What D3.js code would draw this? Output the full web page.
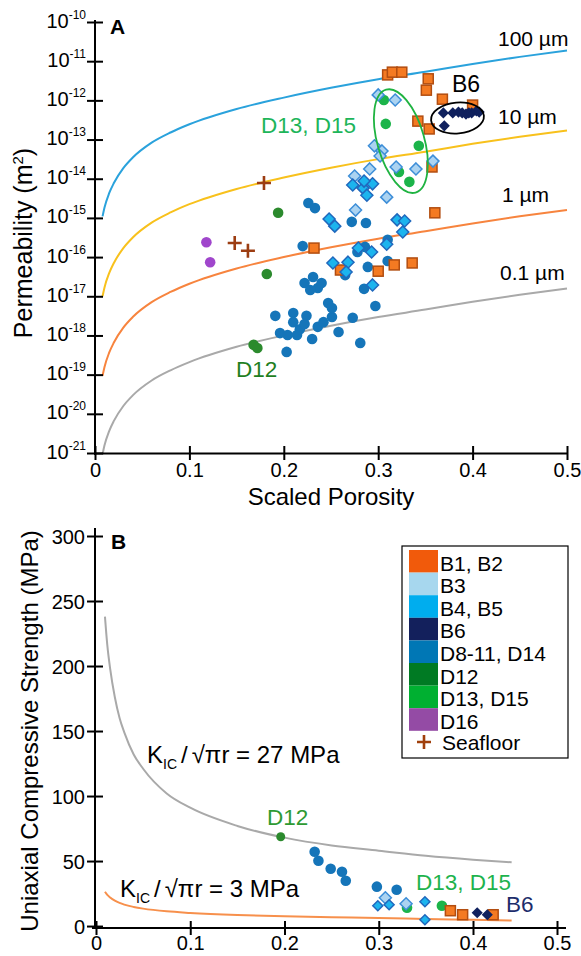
<!DOCTYPE html>
<html>
<head>
<meta charset="utf-8">
<script src="https://cdn.jsdelivr.net/npm/d3@7"></script>
<style>
  body { margin: 0; background: #fff; }
  svg text { font-family: 'Liberation Sans', Arial, sans-serif; }
</style>
</head>
<body>
<svg width="581" height="956"></svg>
<script>
// ---- panel A data : porosity vs log10 permeability (m2) ----
const permTicks = [-21, -20, -19, -18, -17, -16, -15, -14, -13, -12, -11, -10]
const porosityTicks = [0, 0.1, 0.2, 0.3, 0.4, 0.5]

const curvePorosity = [0.008, 0.01, 0.015, 0.02, 0.03, 0.04, 0.06, 0.08, 0.1, 0.15, 0.2, 0.25, 0.3, 0.35, 0.4, 0.45, 0.5]
const perm100um = [-14.96, -14.74, -14.37, -14.11, -13.73, -13.46, -13.08, -12.82, -12.61, -12.22, -11.93, -11.68, -11.46, -11.27, -11.07, -10.89, -10.73]
const perm10um = [-17.0, -16.78, -16.41, -16.15, -15.77, -15.5, -15.12, -14.86, -14.65, -14.26, -13.97, -13.72, -13.5, -13.31, -13.11, -12.93, -12.77]
const perm1um = [-19.03, -18.81, -18.44, -18.18, -17.8, -17.53, -17.15, -16.89, -16.68, -16.29, -16.0, -15.75, -15.53, -15.34, -15.14, -14.96, -14.8]
const perm01um = [-21.03, -20.81, -20.44, -20.18, -19.8, -19.53, -19.15, -18.89, -18.68, -18.29, -18.0, -17.75, -17.53, -17.34, -17.14, -16.96, -16.8]

const permB1B2 = [[0.310, -11.35], [0.315, -11.28], [0.325, -11.28], [0.353, -11.45], [0.351, -11.74],
  [0.368, -11.97], [0.400, -12.12], [0.342, -12.53], [0.354, -12.73], [0.357, -13.70], [0.360, -14.87],
  [0.232, -15.77], [0.260, -16.33], [0.300, -16.36], [0.317, -16.20], [0.336, -16.15]]
const permB3 = [[0.300, -11.86], [0.318, -11.99], [0.296, -13.16], [0.304, -13.29], [0.302, -13.42],
  [0.319, -13.70], [0.340, -13.75], [0.358, -13.55], [0.291, -13.75], [0.309, -14.47], [0.276, -14.80],
  [0.275, -13.93]]
const permB4B5 = [[0.273, -14.16], [0.284, -14.24], [0.294, -14.13], [0.288, -14.42], [0.285, -14.06],
  [0.248, -15.03], [0.254, -15.21], [0.320, -15.05], [0.328, -15.08], [0.326, -15.36], [0.279, -15.77],
  [0.293, -15.87], [0.309, -15.67], [0.252, -16.15], [0.268, -16.13], [0.266, -16.38], [0.294, -16.71]]
const permB6 = [[0.369, -12.32], [0.370, -12.65], [0.379, -12.32], [0.385, -12.30], [0.389, -12.32],
  [0.393, -12.35], [0.396, -12.32], [0.399, -12.32], [0.404, -12.27], [0.407, -12.30]]
const permD8 = [[0.226, -14.62], [0.233, -14.75], [0.272, -15.10], [0.287, -15.13], [0.220, -15.72],
  [0.286, -15.74], [0.278, -15.87], [0.310, -15.56], [0.310, -16.10], [0.289, -16.25], [0.265, -16.46],
  [0.285, -16.81], [0.297, -17.25], [0.191, -17.50], [0.210, -17.43], [0.210, -17.66], [0.196, -17.94],
  [0.204, -17.99], [0.214, -17.99], [0.217, -17.84], [0.224, -17.50], [0.222, -17.71], [0.230, -18.09],
  [0.236, -17.78], [0.242, -17.66], [0.251, -17.53], [0.247, -17.17], [0.251, -17.30], [0.222, -16.66],
  [0.231, -16.51], [0.236, -16.79], [0.240, -16.66], [0.228, -16.84], [0.258, -17.91], [0.273, -17.55],
  [0.203, -18.42], [0.281, -18.19]]
const permD12 = [[0.194, -14.87], [0.182, -16.43], [0.168, -18.24], [0.172, -18.32]]
const permD13 = [[0.306, -11.99], [0.308, -12.60], [0.343, -13.16], [0.322, -13.83], [0.333, -14.08]]
const permD16 = [[0.118, -15.62], [0.122, -16.13]]
const permSeafloor = [[0.179, -14.11], [0.148, -15.64], [0.162, -15.84]]

// ---- panel B data : porosity vs UCS (MPa) ----
const ucsTicks = [0, 50, 100, 150, 200, 250, 300]
const strengthPorosity = [0.0095, 0.012, 0.015, 0.02, 0.025, 0.03, 0.04, 0.05, 0.075, 0.1, 0.15, 0.2, 0.25, 0.3, 0.35, 0.4, 0.446]
const strength27 = [238, 216, 198, 176, 160, 149, 132, 121, 102, 91, 77, 68, 62, 58, 54, 51, 49]
const strength3 = [26.4, 24, 22, 19.5, 17.8, 16.5, 14.7, 13.4, 11.3, 10.1, 8.5, 7.5, 6.8, 6.2, 5.5, 4.8, 4.2]

const ucsB1B2 = [[0.376, 11.8], [0.389, 8.7], [0.424, 8.7]]
const ucsB3 = [[0.307, 21.8], [0.329, 17.2]]
const ucsB4B5 = [[0.299, 15.6], [0.311, 16.4], [0.349, 18.7], [0.349, 4.8]]
const ucsB6 = [[0.405, 10.2], [0.417, 8.7]]
const ucsD8 = [[0.232, 57.2], [0.236, 50.2], [0.249, 44.1], [0.261, 41.8], [0.265, 34.8], [0.298, 30.3], [0.319, 27.9]]
const ucsD12 = [[0.196, 68.7]]
const ucsD13 = [[0.330, 14.1], [0.367, 15.6]]

const legendLabels = ['B1, B2', 'B3', 'B4, B5', 'B6', 'D8-11, D14', 'D12', 'D13, D15', 'D16']
const legendColors = ['#f15a0b', '#a7d7ee', '#00adee', '#13205c', '#0077b5', '#007a23', '#00b031', '#944ba5']

const svg = d3.select('svg')

// marker styles
const styles = {
  b1b2: { shape: 'square', fill: '#f47a22', stroke: '#b24d10', size: 10 },
  b3: { shape: 'diamond', fill: '#abd3f1', stroke: '#3d8ed8', size: 6 },
  b4b5: { shape: 'diamond', fill: '#1cb4ee', stroke: '#2068bd', size: 6 },
  b6: { shape: 'diamond', fill: '#10215e', stroke: '#10215e', size: 4.5 },
  d8: { shape: 'circle', fill: '#1575b9', size: 5.3 },
  d12: { shape: 'circle', fill: '#2b8a2d', size: 5.3 },
  d13: { shape: 'circle', fill: '#1cb44a', size: 5.3 },
  d16: { shape: 'circle', fill: '#a046cc', size: 5.3 },
  sea: { shape: 'plus', stroke: '#9c3d12', size: 7 }
}

function drawMarks(g, data, x, y, st) {
  let sel = g.append('g').selectAll('path').data(data).enter()
  if (st.shape === 'circle') {
    sel.append('circle')
      .attr('cx', d => x(d[0])).attr('cy', d => y(d[1]))
      .attr('r', st.size).attr('fill', st.fill)
  } else if (st.shape === 'square') {
    sel.append('rect')
      .attr('x', d => x(d[0]) - st.size / 2).attr('y', d => y(d[1]) - st.size / 2)
      .attr('width', st.size).attr('height', st.size)
      .attr('fill', st.fill).attr('stroke', st.stroke).attr('stroke-width', 1.5)
  } else if (st.shape === 'diamond') {
    let s = st.size
    sel.append('path')
      .attr('d', d => {
        let cx = x(d[0]), cy = y(d[1])
        return `M${cx},${cy - s}L${cx + s},${cy}L${cx},${cy + s}L${cx - s},${cy}Z`
      })
      .attr('fill', st.fill).attr('stroke', st.stroke).attr('stroke-width', 1.5)
  } else {
    let s = st.size
    sel.append('path')
      .attr('d', d => {
        let cx = x(d[0]), cy = y(d[1])
        return `M${cx - s},${cy}H${cx + s}M${cx},${cy - s}V${cy + s}`
      })
      .attr('fill', 'none').attr('stroke', st.stroke).attr('stroke-width', 2.6)
  }
}

function styleAxis(ax) {
  ax.attr('font-size', 20).attr('font-family', null)
  ax.select('.domain').attr('stroke-width', 2)
  ax.selectAll('.tick line').attr('stroke-width', 2)
}

// ================= PANEL A =================
const xA = d3.scaleLinear().domain([0, 0.5]).range([95, 567])
const yA = d3.scaleLinear().domain([-21, -10]).range([453, 22])
const gA = svg.append('g')

const lineA = d3.line().x(d => xA(d[0])).y(d => yA(d[1])).curve(d3.curveMonotoneX)
const radiusCurves = [
  { vals: perm100um, color: '#2aa2dc' },
  { vals: perm10um, color: '#f8c11c' },
  { vals: perm1um, color: '#f7843e' },
  { vals: perm01um, color: '#a9a9a9' }
]
radiusCurves.forEach(c => {
  gA.append('path')
    .attr('d', lineA(curvePorosity.map((p, i) => [p, c.vals[i]])))
    .attr('fill', 'none').attr('stroke', c.color).attr('stroke-width', 2)
})

// x axis
const axA = gA.append('g')
  .attr('transform', 'translate(0,' + yA(-21) + ')')
  .call(d3.axisBottom(xA).tickValues(porosityTicks).tickSizeInner(7).tickSizeOuter(0)
    .tickFormat(d => d === 0 ? '0' : d3.format('.1f')(d)))
styleAxis(axA)
axA.selectAll('.tick line').attr('y1', -7).attr('y2', 7)
axA.selectAll('.tick text').attr('y', 24).attr('dy', null)

// y axis
const ayA = gA.append('g')
  .attr('transform', 'translate(' + xA(0) + ',0)')
  .call(d3.axisLeft(yA).tickValues(permTicks).tickSizeInner(8).tickSizeOuter(0).tickFormat(''))
styleAxis(ayA)
ayA.select('.domain').attr('d', 'M0,' + (yA(-21) + 2) + 'V' + (yA(-10) - 2))
ayA.selectAll('.tick line').attr('x1', 8).attr('x2', -8)
ayA.selectAll('.tick').each(function (d) {
  let t = d3.select(this).append('text')
    .attr('x', -9).attr('y', 5).attr('text-anchor', 'end')
    .attr('fill', '#000').attr('font-size', 20)
  t.append('tspan').text('10')
  t.append('tspan').attr('dy', -9).attr('font-size', 12).text(d)
})

gA.append('text').attr('x', 331).attr('y', 505).attr('text-anchor', 'middle')
  .attr('font-size', 24).text('Scaled Porosity')
const yLabA = gA.append('text').attr('transform', 'translate(32,243) rotate(-90)')
  .attr('text-anchor', 'middle').attr('font-size', 25)
yLabA.append('tspan').text('Permeability (m')
yLabA.append('tspan').attr('dy', -9).attr('font-size', 15).text('2')
yLabA.append('tspan').attr('dy', 9).text(')')

gA.append('text').attr('x', 110).attr('y', 34).attr('font-size', 21)
  .attr('font-weight', 'bold').text('A')

// curve labels
const curveLabels = [
  ['100 µm', 498, 46], ['10 µm', 498, 124], ['1 µm', 502, 202], ['0.1 µm', 500, 280]
]
curveLabels.forEach(l => {
  gA.append('text').attr('x', l[1]).attr('y', l[2]).attr('font-size', 21).text(l[0])
})

// points
drawMarks(gA, permD8, xA, yA, styles.d8)
drawMarks(gA, permD12, xA, yA, styles.d12)
drawMarks(gA, permD13, xA, yA, styles.d13)
drawMarks(gA, permD16, xA, yA, styles.d16)
drawMarks(gA, permB1B2, xA, yA, styles.b1b2)
drawMarks(gA, permB3, xA, yA, styles.b3)
drawMarks(gA, permB4B5, xA, yA, styles.b4b5)
drawMarks(gA, permB6, xA, yA, styles.b6)
drawMarks(gA, permSeafloor, xA, yA, styles.sea)

// ellipses and annotations
gA.append('ellipse')
  .attr('transform', 'translate(' + xA(0.324) + ',' + yA(-13.04) + ') rotate(-16)')
  .attr('rx', 23.5).attr('ry', 53.5)
  .attr('fill', 'none').attr('stroke', '#1fb341').attr('stroke-width', 1.8)
gA.append('ellipse')
  .attr('transform', 'translate(' + xA(0.384) + ',' + yA(-12.45) + ') rotate(-5)')
  .attr('rx', 26.5).attr('ry', 15.5)
  .attr('fill', 'none').attr('stroke', '#000').attr('stroke-width', 1.8)
gA.append('text').attr('x', 452).attr('y', 92).attr('font-size', 23).text('B6')
gA.append('text').attr('x', 261).attr('y', 133).attr('font-size', 22.5)
  .attr('fill', '#1db55a').text('D13, D15')
gA.append('text').attr('x', 236).attr('y', 377).attr('font-size', 22.5)
  .attr('fill', '#1f7f22').text('D12')

// ================= PANEL B =================
const xB = d3.scaleLinear().domain([0, 0.4, 0.5]).range([96, 473, 557])
const yB = d3.scaleLinear().domain([-1.5, 300]).range([928, 536])
const gB = svg.append('g')

const lineB = d3.line().x(d => xB(d[0])).y(d => yB(d[1])).curve(d3.curveMonotoneX)
gB.append('path')
  .attr('d', lineB(strengthPorosity.map((p, i) => [p, strength27[i]])))
  .attr('fill', 'none').attr('stroke', '#a9a9a9').attr('stroke-width', 2)
gB.append('path')
  .attr('d', lineB(strengthPorosity.map((p, i) => [p, strength3[i]])))
  .attr('fill', 'none').attr('stroke', '#f7904c').attr('stroke-width', 2)

const axB = gB.append('g')
  .attr('transform', 'translate(0,928)')
  .call(d3.axisBottom(xB).tickValues(porosityTicks).tickSizeInner(7).tickSizeOuter(0)
    .tickFormat(d => d === 0 ? '0' : d3.format('.1f')(d)))
styleAxis(axB)
axB.select('.domain').attr('d', 'M92,0H566')
axB.selectAll('.tick line').attr('y1', -7).attr('y2', 7)
axB.selectAll('.tick text').attr('y', 22).attr('dy', null)

const ayB = gB.append('g')
  .attr('transform', 'translate(95,0)')
  .call(d3.axisLeft(yB).tickValues(ucsTicks).tickSizeInner(8).tickSizeOuter(0))
styleAxis(ayB)
ayB.select('.domain').attr('d', 'M0,929V528')
ayB.selectAll('.tick line').attr('x1', 8).attr('x2', -8)
ayB.selectAll('.tick text').attr('x', -10).attr('dy', '0.35em')

gB.append('text').attr('transform', 'translate(38,731) rotate(-90)')
  .attr('text-anchor', 'middle').attr('font-size', 24)
  .text('Uniaxial Compressive Strength (MPa)')
gB.append('text').attr('x', 111).attr('y', 549).attr('font-size', 21)
  .attr('font-weight', 'bold').text('B')

function kLabel(x, y, value) {
  let t = gB.append('text').attr('x', x).attr('y', y).attr('font-size', 24)
  t.append('tspan').text('K')
  t.append('tspan').attr('dy', 6).attr('font-size', 14).text('IC')
  t.append('tspan').attr('dy', -6).attr('dx', 4).text('/')
  t.append('tspan').attr('dx', 4).text('√πr = ' + value + ' MPa')
}
kLabel(147, 763, 27)
kLabel(120, 897, 3)

drawMarks(gB, ucsD8, xB, yB, styles.d8)
drawMarks(gB, ucsD12, xB, yB, { shape: 'circle', fill: '#2b8a2d', size: 4.5 })
drawMarks(gB, ucsD13, xB, yB, styles.d13)
drawMarks(gB, ucsB1B2, xB, yB, styles.b1b2)
drawMarks(gB, ucsB3, xB, yB, styles.b3)
drawMarks(gB, ucsB4B5, xB, yB, { shape: 'diamond', fill: '#1cb4ee', stroke: '#2068bd', size: 5 })
drawMarks(gB, ucsB6, xB, yB, styles.b6)

gB.append('text').attr('x', 267).attr('y', 825).attr('font-size', 22.5)
  .attr('fill', '#2e9a32').text('D12')
gB.append('text').attr('x', 416).attr('y', 890).attr('font-size', 22.5)
  .attr('fill', '#1db34d').text('D13, D15')
gB.append('text').attr('x', 506).attr('y', 912).attr('font-size', 22.5)
  .attr('fill', '#1d2d6b').text('B6')

// legend
const leg = gB.append('g').attr('transform', 'translate(402,546)')
leg.append('rect').attr('width', 166).attr('height', 212)
  .attr('fill', '#fff').attr('stroke', '#000').attr('stroke-width', 1.2)
legendLabels.forEach((lab, i) => {
  leg.append('rect').attr('x', 7).attr('y', 4 + i * 22.6).attr('width', 29).attr('height', 22.6)
    .attr('fill', legendColors[i])
  leg.append('text').attr('x', 38).attr('y', 4 + i * 22.6 + 20.5).attr('font-size', 21).text(lab)
})
leg.append('path').attr('d', 'M15,196H29M22,189V203')
  .attr('stroke', '#a0400c').attr('stroke-width', 2.6)
leg.append('text').attr('x', 40).attr('y', 204).attr('font-size', 21).text('Seafloor')
</script>
</body>
</html>
